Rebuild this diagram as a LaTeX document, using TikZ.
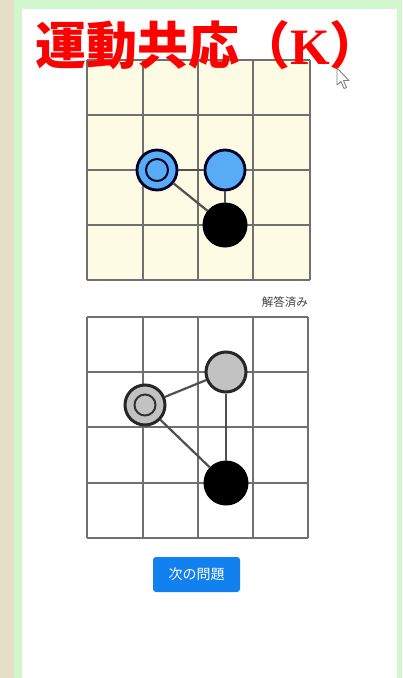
\documentclass[tikz,border=0pt]{standalone}
\usepackage{fontspec}
\newfontfamily\cjk{Noto Sans CJK JP}[BoldFont=* Bold]
\newfontfamily\cjkblack{Noto Sans CJK JP Black}
\newfontfamily\kserif{Liberation Serif}
\definecolor{beige}{HTML}{E6DFC8}
\definecolor{lgreen}{HTML}{D2F7CE}
\definecolor{cream}{HTML}{FDFBE3}
\definecolor{gridgray}{HTML}{707070}
\definecolor{dotblue}{HTML}{58ACF5}
\definecolor{dotgray}{HTML}{C2C2C2}
\definecolor{btnblue}{HTML}{1380F0}
\definecolor{edgegray}{HTML}{505050}
\tikzset{
  gridline/.style={draw=gridgray, line width=1.9bp},
  bluedot/.style={circle, fill=dotblue, draw=black!85!blue, line width=2.8bp, minimum size=40bp, inner sep=0pt},
  graydot/.style={circle, fill=dotgray, draw=black!85, line width=3bp, minimum size=40bp, inner sep=0pt},
  blackdot/.style={circle, fill=black, draw=black, line width=1bp, minimum size=44bp, inner sep=0pt},
  link/.style={draw=edgegray, line width=2.2bp},
}
\begin{document}
\begin{tikzpicture}[x=1bp, y=-1bp]
\useasboundingbox (0,0) rectangle (402,678);
% frame
\fill[beige] (0,0) rectangle (14,678);
\fill[lgreen] (14,0) rectangle (402,678);
\fill[white] (22,9) rectangle (397,678);
% top grid
\fill[cream] (87,60) rectangle (310,280);
\foreach \x in {87,143,198,253,310} \draw[gridline] (\x,60) -- (\x,280);
\foreach \y in {60,115,170,225,280} \draw[gridline] (87,\y) -- (310,\y);
\node[bluedot] (ta) at (157,170) {};
\draw[draw=black!85!blue, line width=2bp] (ta.center) circle (11bp);
\node[bluedot] (tb) at (225,170) {};
\node[blackdot] (tc) at (225,225) {};
\draw[link] (ta) -- (tb);
\draw[link] (ta) -- (tc);
\draw[link] (tb) -- (tc);
% title
\node[anchor=base west, inner sep=0pt, text=red] (title) at (35,65)
  {\fontsize{51bp}{51bp}\selectfont\cjkblack 運動共応（{\kserif\bfseries K}）};
% cursor
\draw[fill=white, draw=gray, line width=0.9bp, line join=round]
  (337,68) -- (337,85) -- (341,81.5) -- (344,88.5) -- (346.5,87.5) -- (343.5,80.5) -- (349,80.5) -- cycle;
% label
\node[anchor=east, inner sep=0pt, text=black!75] (done) at (308,302)
  {\fontsize{11.5bp}{12bp}\selectfont\cjk 解答済み};
% bottom grid
\foreach \x in {87,143,198,253,308} \draw[gridline] (\x,317) -- (\x,538);
\foreach \y in {317,372,427,483,538} \draw[gridline] (87,\y) -- (308,\y);
\node[graydot] (ba) at (145,405) {};
\draw[draw=black!80, line width=2bp] (ba.center) circle (10.5bp);
\node[graydot] (bb) at (226,372) {};
\node[blackdot] (bc) at (226,483) {};
\draw[link] (ba) -- (bb);
\draw[link] (ba) -- (bc);
\draw[link] (bb) -- (bc);
% button
\node[fill=btnblue, rounded corners=3bp, minimum width=87bp, minimum height=35bp, inner sep=0pt, text=white] (btn) at (196.5,574.5)
  {\fontsize{14bp}{14bp}\selectfont\cjk 次の問題};
\end{tikzpicture}
\end{document}
